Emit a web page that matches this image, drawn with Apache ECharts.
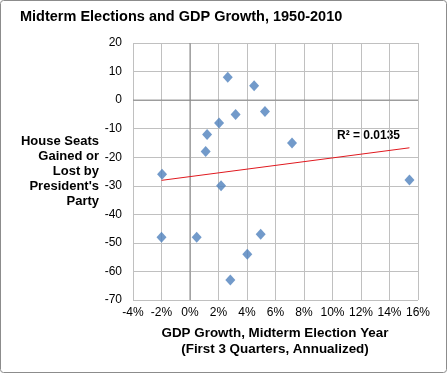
<!DOCTYPE html>
<html><head><meta charset="utf-8">
<script src="https://cdn.jsdelivr.net/npm/echarts@6/dist/echarts.min.js"></script>
<style>html,body{margin:0;padding:0;background:#fff}#c{width:447px;height:373px}</style>
</head><body><div id="c"></div>
<script>
const gdpGrowth = [2.65, 4.5, 3.2, 5.26, 2.04, 1.2, 1.1, 7.16, -1.96, 2.18, 15.4, -2.0, 0.47, 4.96, 4.02, 2.83];
const seatsChange = [8, 5, -5, -4, -8, -12, -18, -15, -26, -30, -28, -48, -48, -47, -54, -63];
const trendX = [-2.0, 15.4];
const trendY = [-28.1, -16.7];
const xTicks = [-4, -2, 0, 2, 4, 6, 8, 10, 12, 14, 16];
const yTicks = [20, 10, 0, -10, -20, -30, -40, -50, -60, -70];
const titleText = 'Midterm Elections and GDP Growth, 1950-2010';
const yName = ['House Seats', 'Gained or', 'Lost by', "President's", 'Party'];
const xName = ['GDP Growth, Midterm Election Year', '(First 3 Quarters, Annualized)'];
const r2Text = 'R² = 0.0135';

const chart = echarts.init(document.getElementById('c'), null, {renderer: 'canvas'});
const F = 'Arial, "Liberation Sans", sans-serif';
const pts = gdpGrowth.map((x, i) => [x, seatsChange[i]]);
const grid = {left: 133, right: 29, top: 43, bottom: 73};
chart.setOption({
  animation: false,
  textStyle: {fontFamily: F},
  grid: grid,
  xAxis: {
    type: 'value', min: xTicks[0], max: xTicks[xTicks.length - 1], interval: 2,
    axisLine: {show: false, onZero: false}, axisTick: {show: false},
    splitLine: {show: true, lineStyle: {color: '#c0c0c0', width: 1}},
    axisLabel: {color: '#000', fontSize: 12, fontFamily: F, margin: 7,
      formatter: v => xTicks.includes(v) ? v + '%' : ''}
  },
  yAxis: {
    type: 'value', min: yTicks[yTicks.length - 1], max: yTicks[0], interval: 10,
    axisLine: {show: false, onZero: false}, axisTick: {show: false},
    splitLine: {show: true, lineStyle: {color: '#c0c0c0', width: 1}},
    axisLabel: {color: '#000', fontSize: 12, fontFamily: F, margin: 11,
      formatter: v => yTicks.includes(v) ? String(v) : ''}
  },
  series: [
    {
      type: 'line', data: [[0, yTicks[yTicks.length - 1]], [0, yTicks[0]]], symbol: 'none', silent: true,
      lineStyle: {color: '#868686', width: 1}, z: 2
    },
    {
      type: 'line', data: [[xTicks[0], 0], [xTicks[xTicks.length - 1], 0]], symbol: 'none', silent: true,
      lineStyle: {color: '#868686', width: 1}, z: 2
    },
    {
      type: 'line', data: trendX.map((x, i) => [x, trendY[i]]), symbol: 'none',
      lineStyle: {color: '#e0191f', width: 1}, z: 3
    },
    {
      type: 'scatter', data: pts, symbol: 'diamond', symbolSize: [10, 11],
      itemStyle: {color: '#4f81bd'}, z: 4
    }
  ],
  graphic: [
    {type: 'rect', shape: {x: 0.5, y: 0.5, width: 446, height: 372, r: 3},
      style: {fill: 'none', stroke: '#8c8c8c', lineWidth: 1}, z: 100},
    {type: 'text', x: 20, y: 9, style: {text: titleText, font: 'bold 14.5px ' + F, fill: '#000'}},
    {type: 'text', x: 99, y: 134, style: {text: yName.join('\n'), font: 'bold 13px ' + F, fill: '#000', align: 'right', lineHeight: 15}},
    {type: 'text', x: 275, y: 325, style: {text: xName.join('\n'), font: 'bold 13.4px ' + F, fill: '#000', align: 'center', lineHeight: 16}},
    {type: 'text', x: 337, y: 130, style: {text: r2Text, font: 'bold 12px ' + F, fill: '#000'}}
  ]
});
</script></body></html>
